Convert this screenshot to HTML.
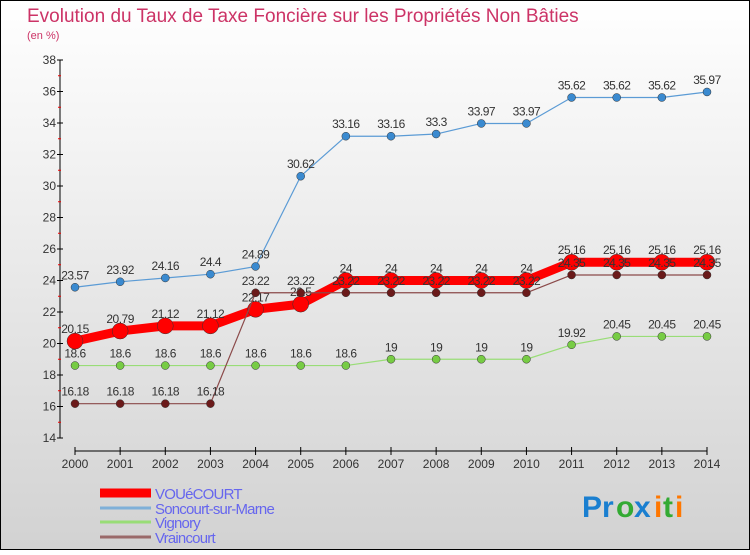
<!DOCTYPE html>
<html><head><meta charset="utf-8"><style>
html,body{margin:0;padding:0;}
body{width:750px;height:550px;overflow:hidden;font-family:"Liberation Sans",sans-serif;}
</style></head><body>
<svg id="c" width="750" height="550" xmlns="http://www.w3.org/2000/svg">
<defs><linearGradient id="bg" x1="0" y1="0" x2="0" y2="1"><stop offset="0" stop-color="#ffffff"/><stop offset="1" stop-color="#d2d2d2"/></linearGradient></defs>
<rect x="0.5" y="0.5" width="749" height="549" fill="url(#bg)" stroke="#000"/>
<text x="27" y="22" font-size="19" fill="#cc3366">Evolution du Taux de Taxe Foncière sur les Propriétés Non Bâties</text>
<text x="27" y="39" font-size="11" fill="#cc3366">(en %)</text>
<g id="axes"></g><g id="series"></g><g id="legend"></g>
<g font-size="30" font-family="Liberation Sans, sans-serif" font-weight="bold">
<text x="582" y="517" fill="#1a7fd0">Pr</text><text x="616" y="517" fill="#33aa33">o</text><text x="634" y="517" fill="#1a7fd0">x</text><text x="654" y="517" fill="#ff7700">i</text><text x="663" y="517" fill="#33aa33">t</text><text x="675" y="517" fill="#ff7700">i</text>
</g>
</svg>
<script>
const years=[2000,2001,2002,2003,2004,2005,2006,2007,2008,2009,2010,2011,2012,2013,2014];
const yTicks=[14,16,18,20,22,24,26,28,30,32,34,36,38];
const vouecourt=[20.15,20.79,21.12,21.12,22.17,22.5,24,24,24,24,24,25.16,25.16,25.16,25.16];
const soncourt=[23.57,23.92,24.16,24.4,24.89,30.62,33.16,33.16,33.3,33.97,33.97,35.62,35.62,35.62,35.97];
const vignory=[18.6,18.6,18.6,18.6,18.6,18.6,18.6,19,19,19,19,19.92,20.45,20.45,20.45];
const vraincourt=[16.18,16.18,16.18,16.18,23.22,23.22,23.22,23.22,23.22,23.22,23.22,24.35,24.35,24.35,24.35];
const names=["VOUéCOURT","Soncourt-sur-Marne","Vignory","Vraincourt"];
const NS="http://www.w3.org/2000/svg";
const X=i=>75+i*(707-75)/(years.length-1);
const Y=v=>438-(v-14)*(438-60)/24;
function mk(t,a,p){const e=document.createElementNS(NS,t);for(const k in a)e.setAttribute(k,a[k]);p.appendChild(e);return e;}
const ax=document.getElementById('axes');
const yl=mk('line',{x1:60,y1:60,x2:60,y2:438,stroke:'#000'},ax);


yTicks.forEach((t,i)=>{
  mk('line',{x1:57,x2:63,y1:Y(t),y2:Y(t),stroke:'#000'},ax);
  if(i<yTicks.length-1) mk('line',{x1:58,x2:61,y1:Y(t+1),y2:Y(t+1),stroke:'#e00'},ax);
  const tx=mk('text',{x:56,y:Y(t)+4,'font-size':12,'text-anchor':'end',fill:'#333'},ax);tx.textContent=t;
  
  
});
const xl=mk('line',{x1:75,y1:451,x2:707,y2:451,stroke:'#000'},ax);


years.forEach((y,i)=>{
  mk('line',{x1:X(i),x2:X(i),y1:447,y2:455,stroke:'#000'},ax);
  const tx=mk('text',{x:X(i),y:468,'font-size':12,'text-anchor':'middle',fill:'#333'},ax);tx.textContent=y;
  
  
});
const sg=document.getElementById('series');
function draw(vals,color,dot,w,r,nm){
  const g=mk('g',{},sg);
  
  
  mk('polyline',{points:vals.map((v,i)=>X(i)+','+Y(v)).join(' '),fill:'none',stroke:color,'stroke-width':w,'stroke-linejoin':'round'},g);
  vals.forEach((v,i)=>{
    const c=mk('circle',{cx:X(i),cy:Y(v),r:r,fill:dot,stroke:'#333','stroke-width':0.5},g);
    
    
  });
  vals.forEach((v,i)=>{
    const t=mk('text',{x:X(i),y:Y(v)-8,'font-size':12,'text-anchor':'middle',fill:'#333','letter-spacing':'-0.5'},g);t.textContent=v;
    
    
  });
}
draw(soncourt,'#5b9bd5','#3a8ad0',1.2,4,'series-soncourt');
draw(vignory,'#99dd77','#77cc44',1.2,4,'series-vignory');
draw(vouecourt,'#ff0000','#ff0000',9,8,'series-vouecourt');
draw(vraincourt,'#8b4a4a','#6b1a1a',1.2,4,'series-vraincourt');
const lg=document.getElementById('legend');
const lc=['#ff0000','#7fb0d8','#99dd77','#9a6a6a'],lw=[9,3,3,3],ly=[493,508,522,537];
names.forEach((n,i)=>{
  const g=mk('g',{},lg);
  
  
  mk('line',{x1:100,x2:151,y1:ly[i],y2:ly[i],stroke:lc[i],'stroke-width':lw[i]},g);
  const t=mk('text',{x:155,y:ly[i]+6,'font-size':15,fill:'#6666ee','letter-spacing':'-0.8'},g);t.textContent=n;
});
</script>
</body></html>
